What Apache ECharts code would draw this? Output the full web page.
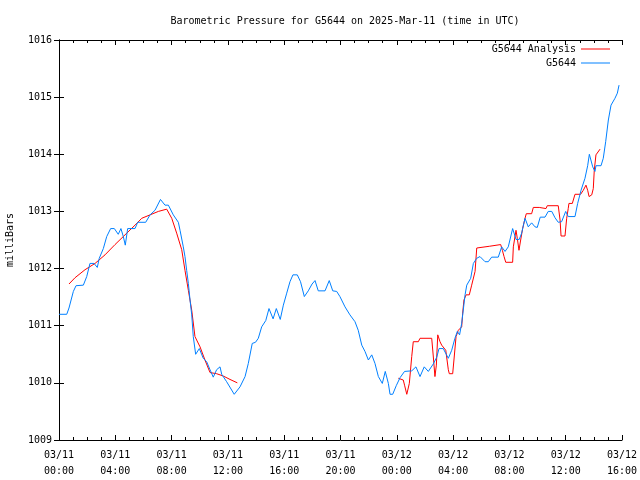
<!DOCTYPE html>
<html>
<head>
<meta charset="utf-8">
<script src="https://cdn.jsdelivr.net/npm/echarts@6/dist/echarts.min.js"></script>
<style>
html,body{margin:0;padding:0;background:#fff;}
#chart{width:640px;height:480px;}
</style>
</head>
<body>
<div id="chart"></div>
<script>
// Hours since 2025-03-11 00:00 UTC
const blueHours = [0.00,0.55,0.71,1.02,1.21,1.73,1.97,2.20,2.49,2.72,2.86,3.15,3.39,3.67,3.93,4.21,4.40,4.57,4.71,4.88,5.40,5.59,6.16,6.47,6.82,7.21,7.53,7.77,8.12,8.48,8.60,8.83,8.95,9.07,9.19,9.31,9.43,9.54,9.71,9.97,10.25,10.49,10.73,10.96,11.20,11.44,11.56,11.91,12.45,12.86,13.22,13.45,13.73,13.96,14.16,14.40,14.69,14.92,15.21,15.44,15.72,15.94,16.18,16.41,16.62,16.93,17.16,17.43,17.71,17.98,18.19,18.42,18.90,19.20,19.45,19.73,19.96,20.32,20.67,21.03,21.26,21.51,21.74,21.98,22.22,22.45,22.69,22.97,23.18,23.40,23.52,23.71,23.96,24.23,24.55,25.06,25.36,25.65,25.95,26.24,26.59,26.84,27.00,27.30,27.66,27.90,28.13,28.30,28.46,28.61,28.85,28.97,29.25,29.44,29.68,29.91,30.27,30.50,30.74,31.21,31.45,31.69,31.92,32.23,32.47,32.70,32.87,33.11,33.34,33.58,33.82,33.98,34.19,34.53,34.76,35.01,35.24,35.47,35.71,36.00,36.18,36.66,36.85,37.09,37.37,37.56,37.68,37.92,38.08,38.15,38.51,38.67,38.84,39.03,39.22,39.50,39.67,39.79];
const blueValues = [1011.20,1011.20,1011.31,1011.60,1011.70,1011.71,1011.86,1012.09,1012.09,1012.02,1012.18,1012.35,1012.56,1012.70,1012.70,1012.60,1012.70,1012.56,1012.41,1012.70,1012.70,1012.81,1012.81,1012.94,1013.02,1013.21,1013.11,1013.11,1012.94,1012.81,1012.67,1012.38,1012.21,1011.97,1011.74,1011.45,1011.19,1010.81,1010.50,1010.60,1010.43,1010.37,1010.23,1010.10,1010.23,1010.28,1010.15,1010.02,1009.80,1009.93,1010.11,1010.34,1010.69,1010.71,1010.78,1010.98,1011.09,1011.30,1011.12,1011.30,1011.11,1011.36,1011.57,1011.77,1011.89,1011.89,1011.77,1011.51,1011.61,1011.73,1011.79,1011.61,1011.61,1011.79,1011.61,1011.60,1011.51,1011.33,1011.19,1011.07,1010.92,1010.66,1010.55,1010.40,1010.49,1010.34,1010.11,1009.99,1010.20,1009.99,1009.80,1009.80,1009.95,1010.09,1010.20,1010.21,1010.28,1010.11,1010.28,1010.20,1010.33,1010.45,1010.60,1010.60,1010.43,1010.57,1010.78,1010.90,1010.84,1011.04,1011.54,1011.71,1011.83,1012.09,1012.18,1012.21,1012.12,1012.12,1012.20,1012.20,1012.38,1012.30,1012.38,1012.70,1012.51,1012.51,1012.62,1012.88,1012.73,1012.80,1012.73,1012.72,1012.90,1012.90,1013.00,1013.00,1012.89,1012.81,1012.82,1013.00,1012.91,1012.91,1013.14,1013.37,1013.58,1013.80,1014.00,1013.78,1013.70,1013.80,1013.80,1013.93,1014.22,1014.60,1014.86,1014.98,1015.07,1015.21];

const analysisHoursA = [0.71,1.14,1.85,2.56,3.27,3.98,4.69,5.40,5.88,6.47,7.06,7.65,8.01,8.36,8.72,8.95,9.19,9.43,9.66,10.02,10.37,10.73,11.20,11.67,12.15,12.67];
const analysisValuesA = [1011.73,1011.84,1011.98,1012.09,1012.24,1012.42,1012.59,1012.76,1012.88,1012.94,1013.00,1013.04,1012.88,1012.62,1012.33,1011.97,1011.62,1011.27,1010.81,1010.63,1010.40,1010.18,1010.16,1010.12,1010.06,1010.00];

const analysisHoursB = [24.11,24.46,24.55,24.71,24.89,25.06,25.17,25.53,25.65,26.48,26.59,26.71,26.81,26.91,27.07,27.19,27.48,27.66,27.73,27.97,28.06,28.21,28.37,28.61,28.68,28.77,28.92,29.15,29.32,29.56,29.68,30.57,30.62,31.38,31.50,31.62,31.74,32.23,32.28,32.47,32.56,32.68,32.80,32.94,33.11,33.20,33.58,33.70,34.12,34.24,34.60,34.69,35.47,35.60,35.67,35.95,36.07,36.18,36.23,36.47,36.66,37.06,37.25,37.44,37.56,37.66,37.85,37.96,38.03,38.15,38.44];
const analysisValuesB = [1010.08,1010.05,1009.96,1009.80,1009.99,1010.46,1010.72,1010.72,1010.78,1010.78,1010.47,1010.11,1010.31,1010.84,1010.72,1010.66,1010.57,1010.23,1010.16,1010.16,1010.40,1010.81,1010.92,1010.98,1011.22,1011.45,1011.54,1011.54,1011.71,1011.95,1012.36,1012.39,1012.42,1012.42,1012.32,1012.21,1012.11,1012.11,1012.38,1012.67,1012.53,1012.32,1012.50,1012.70,1012.88,1012.96,1012.96,1013.07,1013.07,1013.05,1013.05,1013.10,1013.10,1012.85,1012.57,1012.57,1012.88,1013.05,1013.14,1013.14,1013.30,1013.30,1013.37,1013.46,1013.37,1013.26,1013.29,1013.40,1013.72,1013.99,1014.09];

const xMin = 0, xMax = 40, xStep = 4;
const yMin = 1009, yMax = 1016, yStep = 1;
const startDay = 11;

const zip = (a, b) => a.map((v, i) => [v, b[i]]);
const FONT = '"DejaVu Sans Mono", "Liberation Mono", monospace';
const pad = n => (n < 10 ? '0' : '') + n;
const xLabel = h => {
  const day = startDay + Math.floor(h / 24);
  const hr = h % 24;
  return '03/' + pad(day) + '\n' + pad(hr) + ':00';
};

const chart = echarts.init(document.getElementById('chart'), null, {renderer: 'canvas'});
const axisLine = {show: true, lineStyle: {color: '#000', width: 1}};
const legendCommon = {right: 30, itemWidth: 29, itemHeight: 1, icon: 'rect', align: 'right',
  itemGap: 0, padding: 0, textStyle: {fontFamily: FONT, fontSize: 10, color: '#000'}};
chart.setOption({
  animation: false,
  backgroundColor: '#fff',
  textStyle: {fontFamily: FONT},
  title: {
    text: 'Barometric Pressure for G5644 on 2025-Mar-11 (time in UTC)',
    left: 340, textAlign: 'center', top: 11,
    textStyle: {fontFamily: FONT, fontSize: 10, fontWeight: 'normal', color: '#000'}
  },
  legend: [
    Object.assign({data: ['G5644 Analysis'], top: 44}, legendCommon),
    Object.assign({data: ['G5644'], top: 58}, legendCommon)
  ],
  grid: {left: 59, right: 18, top: 40, bottom: 40, containLabel: false, outerBoundsMode: 'none'},
  xAxis: [
    {type: 'value', min: xMin, max: xMax, interval: xStep, position: 'bottom',
     axisLine: axisLine, splitLine: {show: false},
     axisTick: {show: true, inside: true, length: 5, lineStyle: {color: '#000'}},
     minorTick: {show: true, splitNumber: 4, length: 3, lineStyle: {color: '#000'}},
     axisLabel: {formatter: xLabel, fontFamily: FONT, fontSize: 10, color: '#000', margin: 7, lineHeight: 16}},
    {type: 'value', min: xMin, max: xMax, interval: xStep, position: 'top',
     axisLine: axisLine, splitLine: {show: false},
     axisTick: {show: true, inside: true, length: 5, lineStyle: {color: '#000'}},
     minorTick: {show: true, splitNumber: 4, length: 3, lineStyle: {color: '#000'}},
     axisLabel: {show: false}}
  ],
  yAxis: [
    {type: 'value', min: yMin, max: yMax, interval: yStep, position: 'left',
     name: 'milliBars', nameLocation: 'middle', nameGap: 44, nameRotate: 90,
     nameTextStyle: {fontFamily: FONT, fontSize: 10, color: '#000'},
     axisLine: axisLine, splitLine: {show: false},
     axisTick: {show: true, inside: true, length: 5, lineStyle: {color: '#000'}},
     axisLabel: {formatter: v => String(v), fontFamily: FONT, fontSize: 10, color: '#000', margin: 7}},
    {type: 'value', min: yMin, max: yMax, interval: yStep, position: 'right',
     axisLine: axisLine, splitLine: {show: false},
     axisTick: {show: true, inside: true, length: 5, lineStyle: {color: '#000'}},
     axisLabel: {show: false}}
  ],
  series: [
    {name: 'G5644 Analysis', type: 'line', data: zip(analysisHoursA, analysisValuesA),
     symbol: 'none', color: '#ff0000', itemStyle: {color: '#ff0000'}, lineStyle: {color: '#ff0000', width: 1}, z: 2},
    {name: 'G5644 Analysis', type: 'line', data: zip(analysisHoursB, analysisValuesB),
     symbol: 'none', color: '#ff0000', itemStyle: {color: '#ff0000'}, lineStyle: {color: '#ff0000', width: 1}, z: 2},
    {name: 'G5644', type: 'line', data: zip(blueHours, blueValues),
     symbol: 'none', color: '#0080ff', itemStyle: {color: '#0080ff'}, lineStyle: {color: '#0080ff', width: 1}, z: 3}
  ]
});
</script>
</body>
</html>
